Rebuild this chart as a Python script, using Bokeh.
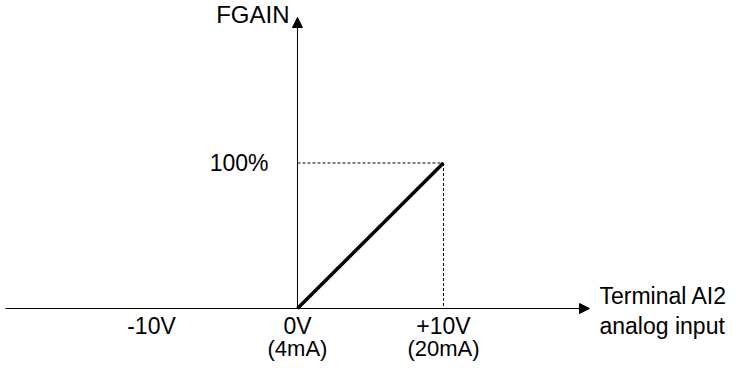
from bokeh.plotting import figure
from bokeh.models import Arrow, NormalHead, Label
from bokeh.embed import file_html
from bokeh.resources import INLINE

# ---- data ----
x_ticks = [-10, 0, 10]
x_tick_labels = ["-10V", "0V", "+10V"]
x_sub_labels = ["", "(4mA)", "(20mA)"]
input_v = [0, 10]
fgain_pct = [0, 100]
y_tick = 100
y_tick_label = "100%"
x_axis_extent = [-20, 20]
y_axis_extent = [0, 200]
y_title = "FGAIN"
x_title = ["Terminal AI2", "analog input"]

FONT = "Liberation Sans"
FS = "23px"

p = figure(width=729, height=363, x_range=(-20.34, 29.59), y_range=(-37.8, 211.7),
           min_border=0, toolbar_location=None, output_backend="svg",
           x_axis_location=None, y_axis_location=None)
p.grid.visible = False
p.outline_line_color = None

# axes with arrows
p.add_layout(Arrow(x_start=x_axis_extent[0], y_start=0, x_end=x_axis_extent[1], y_end=0,
                   line_color="black", line_width=1,
                   end=NormalHead(size=10, fill_color="black", line_color="black")))
p.add_layout(Arrow(x_start=0, y_start=y_axis_extent[0], x_end=0, y_end=y_axis_extent[1],
                   line_color="black", line_width=1,
                   end=NormalHead(size=10, fill_color="black", line_color="black")))

# dashed guides
p.line([0, input_v[1]], [fgain_pct[1], fgain_pct[1]], line_color="black", line_width=1, line_dash="3 2")
p.line([input_v[1], input_v[1]], [fgain_pct[1], 0], line_color="black", line_width=1, line_dash="3 2")

# main line
p.line(input_v, fgain_pct, line_color="black", line_width=3.5)

# tick labels
for xv, lab, sub in zip(x_ticks, x_tick_labels, x_sub_labels):
    p.add_layout(Label(x=xv, y=0, y_offset=-17, text=lab, text_align="center", text_baseline="middle",
                       text_font=FONT, text_font_size=FS, text_color="black"))
    if sub:
        p.add_layout(Label(x=xv, y=0, y_offset=-40, text=sub, text_align="center", text_baseline="middle",
                           text_font=FONT, text_font_size="22px", text_color="black"))

p.add_layout(Label(x=0, y=y_tick, x_offset=-29, text=y_tick_label, text_align="right", text_baseline="middle",
                   text_font=FONT, text_font_size=FS, text_color="black"))

p.add_layout(Label(x=0, y=y_axis_extent[1], x_offset=-8, y_offset=3, text=y_title, text_align="right",
                   text_baseline="middle", text_font=FONT, text_font_size="24px", text_color="black"))

p.add_layout(Label(x=x_axis_extent[1], y=0, x_offset=10, y_offset=13, text=x_title[0], text_align="left",
                   text_baseline="middle", text_font=FONT, text_font_size=FS, text_color="black"))
p.add_layout(Label(x=x_axis_extent[1], y=0, x_offset=10, y_offset=-17, text=x_title[1], text_align="left",
                   text_baseline="middle", text_font=FONT, text_font_size=FS, text_color="black"))

open("out.html", "w").write(file_html(p, INLINE))
